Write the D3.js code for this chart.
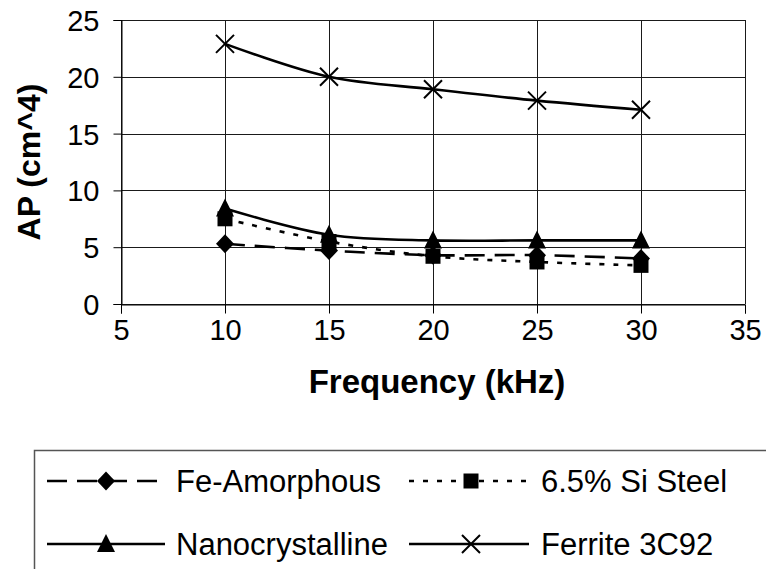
<!DOCTYPE html>
<html>
<head>
<meta charset="utf-8">
<script src="https://cdn.jsdelivr.net/npm/d3@7"></script>
<style>
  html, body { margin: 0; padding: 0; background: #fff; }
  svg { display: block; }
  text { font-family: "Liberation Sans", Arial, sans-serif; fill: #000; }
</style>
</head>
<body>
<svg id="chart" width="766" height="569"></svg>
<script>
// Frequency sweep (kHz) and area product AP (cm^4) for each core material
const frequencies = [10, 15, 20, 25, 30];
const feAmorphous = [5.3, 4.7, 4.3, 4.3, 4.0];
const siSteel = [7.5, 5.5, 4.2, 3.7, 3.4];
const nanocrystalline = [8.4, 6.1, 5.6, 5.6, 5.6];
const ferrite3C92 = [22.9, 20.0, 18.9, 17.9, 17.1];

const xTicks = [5, 10, 15, 20, 25, 30, 35];
const yTicks = [0, 5, 10, 15, 20, 25];
const seriesNames = ["Fe-Amorphous", "6.5% Si Steel", "Nanocrystalline", "Ferrite 3C92"];

const series = [
  { name: seriesNames[0], values: feAmorphous, marker: "diamond", dash: "20,10" },
  { name: seriesNames[1], values: siSteel, marker: "square", dash: "5,9" },
  { name: seriesNames[2], values: nanocrystalline, marker: "triangle", dash: null },
  { name: seriesNames[3], values: ferrite3C92, marker: "cross", dash: null }
];

const svg = d3.select("#chart");
const plot = { left: 121, right: 745, top: 20, bottom: 304 };

const x = d3.scaleLinear().domain([5, 35]).range([plot.left, plot.right]);
const y = d3.scaleLinear().domain([0, 25]).range([plot.bottom, plot.top]);

// Gridlines
const grid = svg.append("g").attr("stroke", "#1a1a1a").attr("stroke-width", 1);
yTicks.forEach(v => {
  grid.append("line")
    .attr("x1", plot.left).attr("x2", plot.right)
    .attr("y1", Math.round(y(v)) + 0.5).attr("y2", Math.round(y(v)) + 0.5);
});
xTicks.forEach(v => {
  grid.append("line")
    .attr("x1", Math.round(x(v)) + 0.5).attr("x2", Math.round(x(v)) + 0.5)
    .attr("y1", plot.top).attr("y2", plot.bottom);
});

// Axes
const xAxis = d3.axisBottom(x).tickValues(xTicks).tickSize(9).tickPadding(6).tickFormat(d3.format("d"));
const yAxis = d3.axisLeft(y).tickValues(yTicks).tickSize(8).tickPadding(14).tickFormat(d3.format("d"));

const gx = svg.append("g").attr("transform", `translate(0,${Math.round(plot.bottom) + 0.5})`).call(xAxis);
const gy = svg.append("g").attr("transform", `translate(${Math.round(plot.left) + 0.5},0)`).call(yAxis);
[gx, gy].forEach(g => {
  g.select(".domain").attr("stroke", "#000").attr("stroke-width", 1);
  g.selectAll(".tick line").attr("stroke", "#000");
  g.selectAll(".tick text")
    .attr("font-family", "Liberation Sans, Arial, sans-serif")
    .attr("font-size", 29)
    .attr("fill", "#000");
});
gy.selectAll(".tick text").attr("dy", "0.36em");

// Axis titles
svg.append("text")
  .attr("x", (plot.left + plot.right) / 2 + 4)
  .attr("y", 393)
  .attr("text-anchor", "middle")
  .attr("font-size", 33)
  .attr("font-weight", "bold")
  .text("Frequency (kHz)");

svg.append("text")
  .attr("transform", `translate(40,${(plot.top + plot.bottom) / 2}) rotate(-90)`)
  .attr("text-anchor", "middle")
  .attr("font-size", 32)
  .attr("font-weight", "bold")
  .text("AP (cm^4)");

// Marker shapes
function markerPath(type) {
  switch (type) {
    case "diamond": return "M0,-9.5L9,0L0,9.5L-9,0Z";
    case "square": return "M-7.5,-7.5H7.5V7.5H-7.5Z";
    case "triangle": return "M0,-10L9,8H-9Z";
    case "cross": return "M-9,-9L9,9M9,-9L-9,9";
  }
}
function drawMarker(g, type, cx, cy) {
  const p = g.append("path")
    .attr("d", markerPath(type))
    .attr("transform", `translate(${cx},${cy})`);
  if (type === "cross") {
    p.attr("fill", "none").attr("stroke", "#000").attr("stroke-width", 2);
  } else {
    p.attr("fill", "#000").attr("stroke", "none");
  }
}

// Series lines and markers
const line = d3.line()
  .x(d => x(d[0]))
  .y(d => y(d[1]))
  .curve(d3.curveCatmullRom.alpha(0.5));

series.forEach(s => {
  const pts = frequencies.map((f, i) => [f, s.values[i]]);
  const g = svg.append("g");
  g.append("path")
    .datum(pts)
    .attr("d", line)
    .attr("fill", "none")
    .attr("stroke", "#000")
    .attr("stroke-width", 2.6)
    .attr("stroke-dasharray", s.dash);
  pts.forEach(p => drawMarker(g, s.marker, x(p[0]), y(p[1])));
});

// Legend
const legend = svg.append("g");
legend.append("rect")
  .attr("x", 34.5).attr("y", 450.5)
  .attr("width", 760).attr("height", 140)
  .attr("fill", "#fff")
  .attr("stroke", "#555").attr("stroke-width", 1.5);

const legendCols = [{ x1: 47, x2: 165, mx: 106, tx: 176 }, { x1: 409, x2: 529, mx: 471, tx: 541 }];
const legendRows = [481, 544];
series.forEach((s, i) => {
  const col = legendCols[i % 2];
  const ry = legendRows[Math.floor(i / 2)];
  legend.append("line")
    .attr("x1", col.x1).attr("x2", col.x2)
    .attr("y1", ry).attr("y2", ry)
    .attr("stroke", "#000").attr("stroke-width", 2.6)
    .attr("stroke-dasharray", s.dash);
  drawMarker(legend, s.marker, col.mx, ry);
  legend.append("text")
    .attr("x", col.tx).attr("y", ry + 11)
    .attr("font-size", 31)
    .text(s.name);
});
</script>
</body>
</html>
